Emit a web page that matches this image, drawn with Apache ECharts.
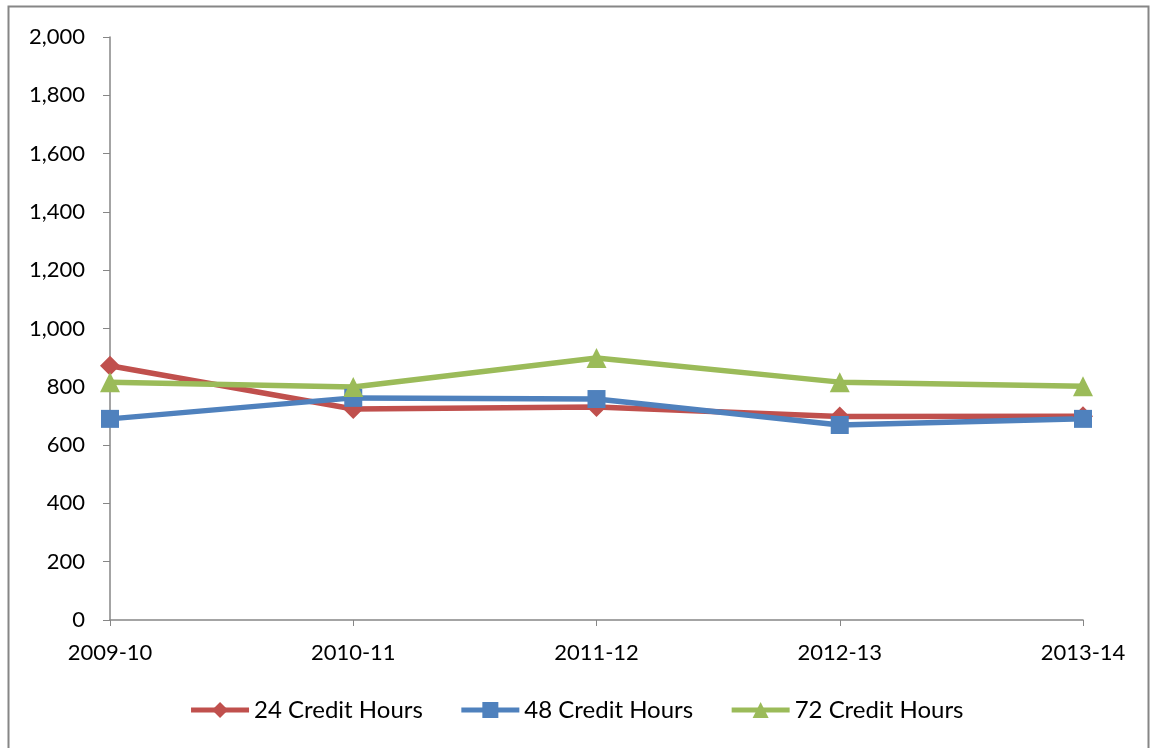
<!DOCTYPE html>
<html>
<head>
<meta charset="utf-8">
<script src="https://cdn.jsdelivr.net/npm/echarts@6/dist/echarts.min.js"></script>
<style>
  html, body { margin: 0; padding: 0; background: #fff; }
  #chart { width: 1152px; height: 748px; }
</style>
</head>
<body>
<div id="chart"></div>
<script>
var years = ['2009-10', '2010-11', '2011-12', '2012-13', '2013-14'];
var hours24 = [872, 724, 731, 698, 699];
var hours48 = [690, 762, 758, 669, 690];
var hours72 = [816, 799, 899, 816, 802];
var seriesNames = ['24 Credit Hours', '48 Credit Hours', '72 Credit Hours'];

var chart = echarts.init(document.getElementById('chart'));
var font = 'Lato, "Open Sans", sans-serif';

function line(name, data, color, symbol, size) {
  return {
    name: name,
    type: 'line',
    data: data,
    symbol: symbol,
    symbolSize: size,
    showSymbol: true,
    lineStyle: { color: color, width: 5.5 },
    itemStyle: { color: color },
    emphasis: { disabled: true }
  };
}

var option = {
  animation: false,
  textStyle: { fontFamily: font },
  graphic: [{
    type: 'rect',
    shape: { x: 8.5, y: 6.5, width: 1140, height: 745 },
    style: { fill: 'none', stroke: '#868686', lineWidth: 2 }
  }],
  legend: {
    bottom: 21,
    left: 'center',
    itemWidth: 58,
    itemHeight: 20,
    itemGap: 36,
    lineStyle: { width: 5 },
    textStyle: { fontSize: 24, color: '#000', fontFamily: font },
    data: seriesNames
  },
  grid: { left: 110, right: 69, top: 37, bottom: 128 },
  xAxis: {
    type: 'category',
    data: years,
    boundaryGap: false,
    axisLine: { lineStyle: { color: '#868686', width: 1.5 } },
    axisTick: { show: true, length: 6, alignWithLabel: true, lineStyle: { color: '#868686' } },
    axisLabel: { color: '#000', fontSize: 22, margin: 22, fontFamily: font }
  },
  yAxis: {
    type: 'value',
    min: 0,
    max: 2000,
    interval: 200,
    axisLine: { show: true, lineStyle: { color: '#868686', width: 1.5 } },
    axisTick: { show: true, length: 7, lineStyle: { color: '#868686' } },
    splitLine: { show: false },
    axisLabel: {
      color: '#000',
      fontSize: 22,
      margin: 25,
      fontFamily: font,
      formatter: function (v) { return v.toLocaleString('en-US'); }
    }
  },
  series: [
    line(seriesNames[0], hours24, '#C0504D', 'diamond', 20),
    line(seriesNames[1], hours48, '#4F81BD', 'rect', 18),
    line(seriesNames[2], hours72, '#9BBB59', 'triangle', 20)
  ]
};

chart.setOption(option);
</script>
</body>
</html>
